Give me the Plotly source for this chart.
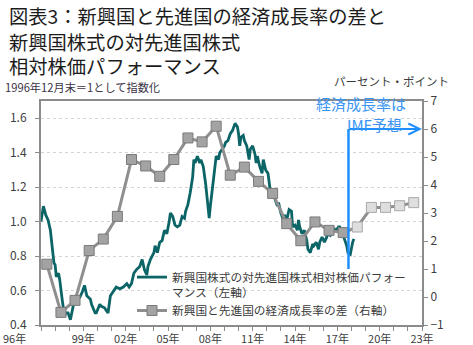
import plotly.graph_objects as go

# ---- data -------------------------------------------------------------
# Emerging vs developed equity relative performance (Dec 1996 = 1), monthly
perf_dates = [
    "1996-12", "1997-02", "1997-04", "1997-06", "1997-08", "1997-09", "1997-10", "1997-11",
    "1997-12", "1998-01", "1998-03", "1998-04", "1998-06", "1998-08", "1998-09", "1998-11",
    "1999-01", "1999-02", "1999-04", "1999-06", "1999-09", "1999-11", "2000-01", "2000-03",
    "2000-06", "2000-07", "2000-10", "2000-11", "2001-02", "2001-03", "2001-06", "2001-07",
    "2001-09", "2001-11", "2002-02", "2002-04", "2002-07", "2002-10", "2003-01", "2003-03",
    "2003-05", "2003-07", "2003-09", "2003-12", "2004-02", "2004-04", "2004-06", "2004-07",
    "2004-09", "2004-12", "2005-01", "2005-03", "2005-05", "2005-07", "2005-09", "2005-11",
    "2006-01", "2006-02", "2006-04", "2006-06", "2006-08", "2006-10", "2006-12", "2007-02",
    "2007-03", "2007-05", "2007-07", "2007-09", "2007-10", "2007-11", "2008-01", "2008-03",
    "2008-04", "2008-06", "2008-08", "2008-10", "2008-11", "2008-12", "2009-02", "2009-04",
    "2009-05", "2009-07", "2009-08", "2009-10", "2009-12", "2010-01", "2010-03", "2010-05",
    "2010-07", "2010-09", "2010-11", "2010-12", "2011-01", "2011-02", "2011-04", "2011-05",
    "2011-07", "2011-09", "2011-10", "2011-12", "2012-02", "2012-03", "2012-04", "2012-06",
    "2012-08", "2012-09", "2012-11", "2013-01", "2013-02", "2013-03", "2013-05", "2013-07",
    "2013-09", "2013-10", "2013-12", "2014-02", "2014-03", "2014-05", "2014-07", "2014-09",
    "2014-10", "2014-12", "2015-02", "2015-03", "2015-04", "2015-06", "2015-08", "2015-10",
    "2015-11", "2016-01", "2016-03", "2016-04", "2016-06", "2016-08", "2016-09", "2016-11",
    "2017-01", "2017-03", "2017-04", "2017-06", "2017-08", "2017-09", "2017-11", "2018-01",
    "2018-02", "2018-04", "2018-06", "2018-08", "2018-09", "2018-11", "2019-01", "2019-02",
]
perf_values = [
    1.00, 1.09, 1.04, 1.01, 0.95, 0.89, 0.80, 0.76,
    0.75, 0.68, 0.70, 0.66, 0.55, 0.45, 0.47, 0.47,
    0.43, 0.47, 0.53, 0.54, 0.56, 0.59, 0.63, 0.57,
    0.55, 0.52, 0.47, 0.47, 0.52, 0.51, 0.50, 0.49,
    0.47, 0.57, 0.60, 0.62, 0.61, 0.62, 0.64, 0.62,
    0.64, 0.70, 0.72, 0.74, 0.78, 0.72, 0.69, 0.74,
    0.78, 0.82, 0.86, 0.82, 0.88, 0.89, 0.95, 0.93,
    1.00, 1.05, 1.03, 0.98, 0.97, 0.98, 1.03, 1.02,
    1.06, 1.10, 1.17, 1.26, 1.36, 1.34, 1.38, 1.34,
    1.36, 1.32, 1.22, 1.07, 1.02, 1.09, 1.22, 1.32,
    1.38, 1.36, 1.40, 1.42, 1.44, 1.46, 1.47, 1.51,
    1.53, 1.57, 1.55, 1.51, 1.44, 1.49, 1.50, 1.47,
    1.44, 1.36, 1.42, 1.44, 1.39, 1.34, 1.38, 1.32,
    1.28, 1.36, 1.30, 1.28, 1.23, 1.18, 1.17, 1.13,
    1.09, 1.11, 1.05, 1.01, 1.04, 1.01, 1.07, 1.06,
    0.97, 0.98, 0.95, 1.01, 0.97, 0.93, 0.95, 0.89,
    0.84, 0.82, 0.87, 0.86, 0.88, 0.84, 0.88, 0.91,
    0.88, 0.91, 0.93, 0.92, 0.95, 0.96, 0.95, 0.97,
    0.97, 0.95, 0.90, 0.86, 0.82, 0.81, 0.88, 0.90,
]

# Growth-rate gap, emerging minus developed (percentage points), annual
gap_years = list(range(1997, 2024))
gap_values = [
    1.17, -0.55, -0.12, 1.66, 2.07, 2.88, 4.91, 4.68, 4.31, 4.91,
    5.68, 5.54, 6.10, 4.35, 4.64, 4.13, 3.70, 2.62, 2.01, 2.68,
    2.38, 2.30, 2.50, 3.20, 3.20, 3.26, 3.37,
]
first_forecast_year = 2019

# Axis ticks
x_tick_years = list(range(1996, 2024, 3))
x_tick_text = [f"{y % 100:02d}年" for y in x_tick_years]
left_ticks = [0.4, 0.6, 0.8, 1.0, 1.2, 1.4, 1.6]
right_ticks = list(range(-1, 8))

# ---- styling ------------------------------------------------------------
FONT = "Noto Sans CJK JP"
TEAL = "#0b6466"
GRAY_LINE = "#8f8f8f"
BLUE = "#1f8fff"
AXIS = "#8c8c8c"

W, H = 473, 345
L, R, T, B = 41, 51, 101, 20   # plot area: x 41..422, y 101..325

gap_dates = [f"{y}-05-01" for y in gap_years]
marker_fill = ["#dedede" if y >= first_forecast_year else "#a3a3a3" for y in gap_years]
marker_edge = ["#a8a8a8" if y >= first_forecast_year else "#7a7a7a" for y in gap_years]

fig = go.Figure()

fig.add_trace(go.Scatter(
    x=perf_dates, y=perf_values, mode="lines",
    name="新興国株式の対先進国株式相対株価パフォー<br>マンス（左軸）",
    line=dict(color=TEAL, width=2.8),
    yaxis="y",
))

fig.add_trace(go.Scatter(
    x=gap_dates, y=gap_values, mode="lines+markers",
    name="新興国と先進国の経済成長率の差（右軸）",
    line=dict(color=GRAY_LINE, width=3),
    marker=dict(symbol="square", size=10, color=marker_fill,
                line=dict(color=marker_edge, width=1)),
    yaxis="y2",
))

# forecast marker: vertical line and arrow
forecast_x = "2018-09-15"
fig.add_shape(type="line", xref="x", yref="y2",
              x0=forecast_x, x1=forecast_x, y0=1.0, y1=6.0,
              line=dict(color=BLUE, width=2.5))
fig.add_annotation(x="2023-12-01", y=6.0, ax=forecast_x, ay=6.0,
                   xref="x", yref="y2", axref="x", ayref="y2",
                   showarrow=True, arrowhead=5, arrowsize=1.1,
                   arrowwidth=2, arrowcolor=BLUE, text="")


def px_x(px):
    return (px - L) / (W - L - R)


def px_y(py):
    return (H - B - py) / (H - T - B)


fig.add_annotation(x=px_x(361), y=px_y(104), xref="paper", yref="paper",
                   xanchor="center", yanchor="middle",
                   text="経済成長率は", showarrow=False,
                   font=dict(family=FONT, size=15, color="#3a95f2"))
fig.add_annotation(x=px_x(374), y=px_y(125), xref="paper", yref="paper",
                   xanchor="center", yanchor="middle",
                   text="IMF予想", showarrow=False,
                   font=dict(family=FONT, size=15, color="#3a95f2"))

# title block, one annotation per line
title_lines = ["図表3：新興国と先進国の経済成長率の差と",
               "新興国株式の対先進国株式",
               "相対株価パフォーマンス"]
for line, cy in zip(title_lines, [16, 41.5, 65.5]):
    fig.add_annotation(x=px_x(7), y=px_y(cy), xref="paper", yref="paper",
                       xanchor="left", yanchor="middle", text=line,
                       showarrow=False,
                       font=dict(family=FONT, size=19.3, color="#1c1c1c"))

fig.add_annotation(x=px_x(3), y=px_y(87.5), xref="paper", yref="paper",
                   xanchor="left", yanchor="middle",
                   text="1996年12月末＝1として指数化", showarrow=False,
                   font=dict(family=FONT, size=11.2, color="#3b3346"))
fig.add_annotation(x=px_x(451), y=px_y(81), xref="paper", yref="paper",
                   xanchor="right", yanchor="middle",
                   text="パーセント・ポイント", showarrow=False,
                   font=dict(family=FONT, size=11.5, color="#3a3a3a"))

# first year label sits flush with the left edge of the chart
fig.add_annotation(x=px_x(1), y=px_y(337.5), xref="paper", yref="paper",
                   xanchor="left", yanchor="middle",
                   text=x_tick_text[0], showarrow=False,
                   font=dict(family=FONT, size=11, color="#404040"))

fig.update_layout(
    width=W, height=H,
    margin=dict(l=L, r=R, t=T, b=B, pad=0, autoexpand=False),
    paper_bgcolor="white", plot_bgcolor="white",
    font=dict(family=FONT, size=12, color="#404040"),
    showlegend=True,
    legend=dict(x=px_x(132), y=px_y(263), xanchor="left", yanchor="top",
                bgcolor="rgba(0,0,0,0)", borderwidth=0,
                font=dict(family=FONT, size=11.7, color="#3a3a3a"),
                valign="top", tracegroupgap=0, itemwidth=30),
    xaxis=dict(
        type="date", range=["1996-12-01", "2023-12-01"], automargin=False,
        tickvals=[f"{y}-12-01" for y in x_tick_years],
        ticktext=[""] + x_tick_text[1:],
        ticks="outside", ticklen=3, tickcolor=AXIS, tickwidth=1,
        minor=dict(tickvals=[f"{y}-12-01" for y in range(1996, 2024)],
                   ticks="outside", ticklen=4, tickcolor=AXIS, showgrid=False),
        showline=True, linecolor=AXIS, linewidth=2, mirror=True,
        showgrid=False, zeroline=False,
        tickfont=dict(family=FONT, size=11, color="#404040"),
    ),
    yaxis=dict(
        range=[0.4, 1.7], tickvals=left_ticks, automargin=False,
        ticktext=[f"{v:.1f}" for v in left_ticks],
        ticks="outside", ticklen=4, tickcolor=AXIS, ticklabelstandoff=6,
        showline=True, linecolor=AXIS, linewidth=2,
        showgrid=True, gridcolor="#d4d4d4", griddash="dot", gridwidth=1,
        zeroline=False,
        tickfont=dict(family=FONT, size=12, color="#404040"),
    ),
    yaxis2=dict(
        range=[-1, 7], tickvals=right_ticks, overlaying="y", side="right",
        automargin=False,
        ticks="outside", ticklen=4, tickcolor=AXIS,
        showline=True, linecolor=AXIS, linewidth=2,
        showgrid=False, zeroline=False,
        tickfont=dict(family=FONT, size=12, color="#404040"),
    ),
)

fig.write_html("out.html")
